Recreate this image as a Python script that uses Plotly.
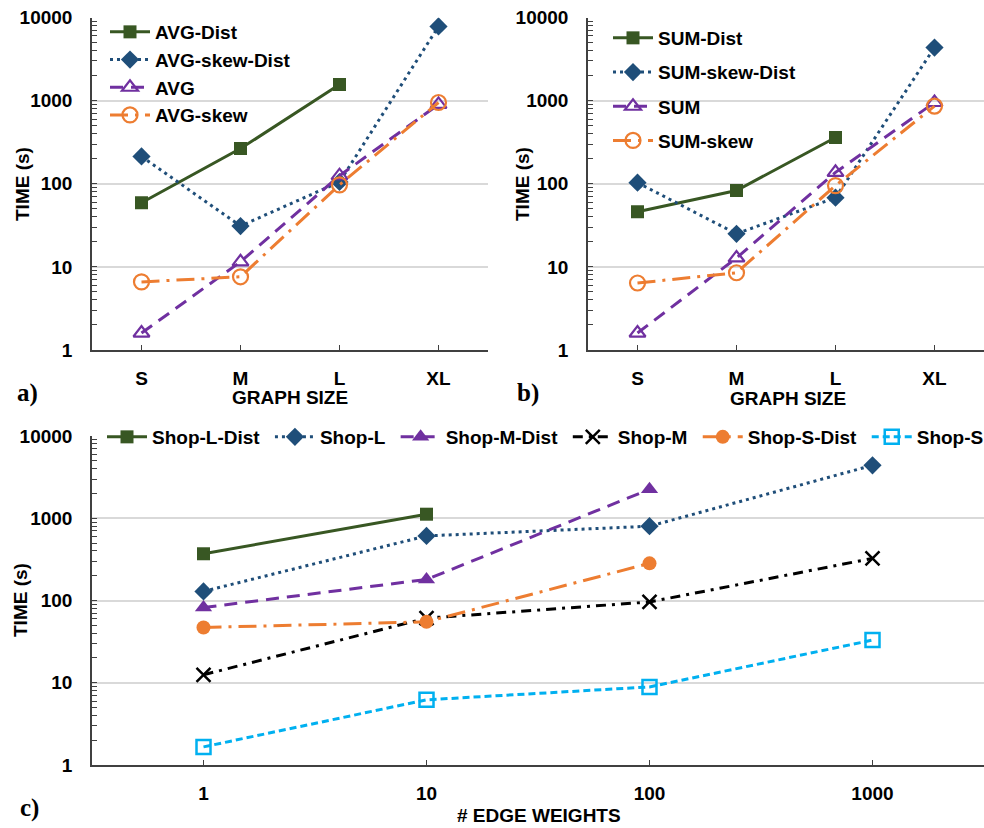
import plotly.graph_objects as go

size_cats = ["S", "M", "L", "XL"]
edge_cats = ["1", "10", "100", "1000"]
y_tickvals = [1, 10, 100, 1000, 10000]
y_ticktext = ["1", "10", "100", "1000", "10000"]

# Panel a
AVG_dist = [59, 265, 1560, None]
AVG_skew_dist = [213, 31, 105, 7800]
AVG = [1.6, 11.5, 125, 900]
AVG_skew = [6.6, 7.6, 97, 950]

# Panel b
SUM_dist = [46, 83, 360, None]
SUM_skew_dist = [103, 25, 68, 4350]
SUM = [1.6, 12.8, 137, 950]
SUM_skew = [6.4, 8.5, 95, 860]

# Panel c
Shop_L_dist = [370, 1120, None, None]
Shop_L = [129, 610, 800, 4400]
Shop_M_dist = [82, 180, 2250, None]
Shop_M = [12.5, 61, 96, 325]
Shop_S_dist = [47, 55, 283, None]
Shop_S = [1.66, 6.2, 8.9, 33]

GREEN = "#385723"
BLUE = "#1F4E79"
PURPLE = "#7030A0"
ORANGE = "#ED7D31"
BLACK = "#000000"
CYAN = "#00B0F0"

SANS = "Liberation Sans, Arial"
SERIF = "Liberation Serif, Times New Roman, serif"
AX = "#404040"

styles = {
    "dist": dict(line=dict(color=GREEN, width=3, dash="solid"),
                 marker=dict(symbol="square", size=13, color=GREEN)),
    "skewdist": dict(line=dict(color=BLUE, width=3, dash="3px,4px"),
                     marker=dict(symbol="diamond", size=14, color=BLUE)),
    "plain": dict(line=dict(color=PURPLE, width=3, dash="13px,8px"),
                  marker=dict(symbol="triangle-up-open", size=14, color=PURPLE, line=dict(width=2.2, color=PURPLE))),
    "skew": dict(line=dict(color=ORANGE, width=3, dash="18px,7px,3px,7px"),
                 marker=dict(symbol="circle-open", size=15, color=ORANGE, line=dict(width=2.2, color=ORANGE))),
}

fig = go.Figure()

def add(x, y, name, st, xa, ya, leg, grp):
    fig.add_trace(go.Scatter(x=x, y=y, name=name, mode="lines+markers",
                             line=st["line"], marker=st["marker"],
                             xaxis=xa, yaxis=ya, legend=leg, legendgroup=grp,
                             connectgaps=False))

add(size_cats, AVG_dist, "AVG-Dist", styles["dist"], "x", "y", "legend", "a1")
add(size_cats, AVG_skew_dist, "AVG-skew-Dist", styles["skewdist"], "x", "y", "legend", "a2")
add(size_cats, AVG, "AVG", styles["plain"], "x", "y", "legend", "a3")
add(size_cats, AVG_skew, "AVG-skew", styles["skew"], "x", "y", "legend", "a4")

add(size_cats, SUM_dist, "SUM-Dist", styles["dist"], "x2", "y2", "legend2", "b1")
add(size_cats, SUM_skew_dist, "SUM-skew-Dist", styles["skewdist"], "x2", "y2", "legend2", "b2")
add(size_cats, SUM, "SUM", styles["plain"], "x2", "y2", "legend2", "b3")
add(size_cats, SUM_skew, "SUM-skew", styles["skew"], "x2", "y2", "legend2", "b4")

NB = "\u00a0"
c_styles = [
    ("Shop-L-Dist" + NB, Shop_L_dist, dict(color=GREEN, width=3, dash="solid"),
     dict(symbol="square", size=13, color=GREEN)),
    ("Shop-L" + NB, Shop_L, dict(color=BLUE, width=3, dash="3px,4px"),
     dict(symbol="diamond", size=14, color=BLUE)),
    ("Shop-M-Dist" + NB, Shop_M_dist, dict(color=PURPLE, width=3, dash="13px,8px"),
     dict(symbol="triangle-up", size=15, color=PURPLE)),
    ("Shop-M" + NB, Shop_M, dict(color=BLACK, width=3, dash="10px,6px,3px,6px"),
     dict(symbol="x-thin", size=14, color=BLACK, line=dict(width=2.5, color=BLACK))),
    ("Shop-S-Dist" + NB, Shop_S_dist, dict(color=ORANGE, width=3, dash="18px,7px,3px,7px"),
     dict(symbol="circle", size=14, color=ORANGE)),
    ("Shop-S", Shop_S, dict(color=CYAN, width=3, dash="7px,4px"),
     dict(symbol="square-open", size=14, color=CYAN, line=dict(width=2.5, color=CYAN))),
]
for name, vals, ln, mk in c_styles:
    fig.add_trace(go.Scatter(x=edge_cats, y=vals, name=name, mode="lines+markers",
                             line=ln, marker=mk, xaxis="x3", yaxis="y3",
                             legend="legend3", connectgaps=False))

W, H = 984, 828

tickfont = dict(family=SANS, size=19, color="#000", weight="bold")

def yax(domain, anchor):
    return dict(domain=domain, anchor=anchor, type="log", range=[0, 4],
                tickvals=y_tickvals, ticktext=y_ticktext, automargin=False,
                ticks="inside", ticklen=5, tickcolor=AX, tickwidth=1.2,
                showline=True, linecolor=AX, linewidth=1.5,
                showgrid=True, gridcolor="#d9d9d9", gridwidth=1.5, zeroline=False,
                minor=dict(ticks="inside", ticklen=5, dtick="D1", tickcolor=AX,
                           tickwidth=1.2, showgrid=False),
                tickfont=tickfont, ticklabelstandoff=14)

def xax(domain, anchor, cats):
    return dict(domain=domain, anchor=anchor, type="category", automargin=False,
                categoryorder="array", categoryarray=cats, range=[-0.5, 3.5],
                ticks="inside", ticklen=5, tickcolor=AX, tickwidth=1.2,
                showline=True, linecolor=AX, linewidth=1.5, showgrid=False,
                zeroline=False, tickfont=tickfont, ticklabelstandoff=10)

ya_top = [1 - 350 / H, 1 - 17.5 / H]
ya_bot = [1 - 765 / H, 1 - 436 / H]

legfont = dict(family=SANS, size=19, color="#000", weight="bold")

fig.update_layout(
    width=W, height=H,
    margin=dict(l=0, r=0, t=0, b=0, autoexpand=False),
    paper_bgcolor="white", plot_bgcolor="white",
    xaxis=xax([92 / W, 488 / W], "y", size_cats),
    yaxis=yax(ya_top, "x"),
    xaxis2=xax([588 / W, 1.0], "y2", size_cats),
    yaxis2=yax(ya_top, "x2"),
    xaxis3=xax([92 / W, 1.0], "y3", edge_cats),
    yaxis3=yax(ya_bot, "x3"),
    legend=dict(x=105 / W, y=1 - 13 / H, xanchor="left", yanchor="top",
                bgcolor="rgba(0,0,0,0)", font=legfont, tracegroupgap=0,
                itemwidth=40),
    legend2=dict(x=608 / W, y=1 - 19 / H, xanchor="left", yanchor="top",
                 bgcolor="rgba(0,0,0,0)", font=legfont, tracegroupgap=6.5,
                 itemwidth=40),
    legend3=dict(x=102 / W, y=1 - 418 / H, xanchor="left", yanchor="top",
                 orientation="h", bgcolor="rgba(0,0,0,0)", font=legfont,
                 itemwidth=40),
    showlegend=True,
)

title_font = dict(family=SANS, size=19, color="#000", weight="bold")
ann = [
    dict(text="GRAPH SIZE", x=290 / W, y=1 - 397 / H),
    dict(text="GRAPH SIZE", x=788 / W, y=1 - 398 / H),
    dict(text="# EDGE WEIGHTS", x=539 / W, y=1 - 815 / H),
    dict(text="TIME (s)", x=22 / W, y=1 - 184 / H, textangle=-90),
    dict(text="TIME (s)", x=522 / W, y=1 - 184 / H, textangle=-90),
    dict(text="TIME (s)", x=20 / W, y=1 - 600 / H, textangle=-90),
]
for a in ann:
    fig.add_annotation(xref="paper", yref="paper", showarrow=False,
                       xanchor="center", yanchor="middle", font=title_font, **a)

for txt, x, y in [("a)", 27, 393), ("b)", 528, 393), ("c)", 29, 808)]:
    fig.add_annotation(text=txt, xref="paper", yref="paper", x=x / W, y=1 - y / H,
                       showarrow=False, xanchor="center", yanchor="middle",
                       font=dict(family=SERIF, size=25, color="#000", weight="bold"))

fig.write_html("out.html")
